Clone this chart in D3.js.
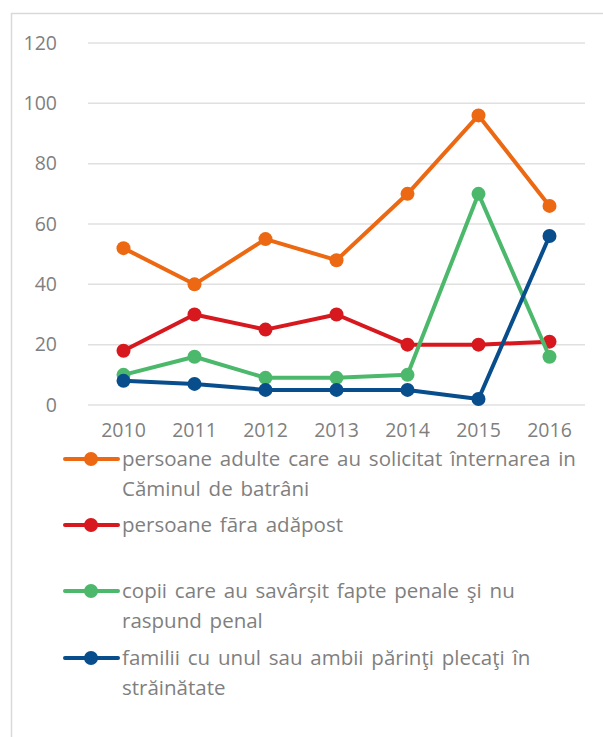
<!DOCTYPE html>
<html><head><meta charset="utf-8">
<script src="https://cdn.jsdelivr.net/npm/d3@7"></script>
<style>body{margin:0;background:#fff}svg{display:block}</style>
</head><body>
<svg id="c" width="603" height="737"></svg>
<script>
const years = ["2010","2011","2012","2013","2014","2015","2016"];
const adulti = [52,40,55,48,70,96,66];
const faraAdapost = [18,30,25,30,20,20,21];
const copii = [10,16,9,9,10,70,16];
const familii = [8,7,5,5,5,2,56];
const yTicks = [0,20,40,60,80,100,120];
const seriesNames = [
  ["persoane adulte care au solicitat înternarea in","Căminul de batrâni"],
  ["persoane fāra adăpost"],
  ["copii care au savârșit fapte penale şi nu","raspund penal"],
  ["familii cu unul sau ambii părinţi plecaţi în","străinătate"]
];
const colors = ["#EC6812","#D7181F","#4CB86C","#084D8C"];
const series = [adulti, faraAdapost, copii, familii];

const svg = d3.select("#c");
const font = "'Open Sans', Lato, sans-serif";
const grey = "#7f7f7f";

svg.append("rect").attr("x",11.5).attr("y",13.5).attr("width",620).attr("height",740)
  .attr("fill","#fff").attr("stroke","#d9d9d9").attr("stroke-width",1.5);

const x = d3.scaleBand().domain(years).range([88,585]);
const y = d3.scaleLinear().domain([0,120]).range([405,43]);

// gridlines
svg.append("g").selectAll("line").data(yTicks).join("line")
  .attr("x1",88).attr("x2",585).attr("y1",d=>y(d)).attr("y2",d=>y(d))
  .attr("stroke","#e0e0e0").attr("stroke-width",1.5);

// y axis labels
const yAxis = svg.append("g").attr("transform","translate(60,0)")
  .call(d3.axisLeft(y).tickValues(yTicks).tickSize(0).tickPadding(3));
yAxis.select(".domain").remove();
yAxis.selectAll("text").attr("font-family",font).attr("font-size",19.5).attr("fill",grey);

// x axis labels (baseline ~437)
const xAxis = svg.append("g").attr("transform","translate(0,437)")
  .call(d3.axisBottom(x).tickSize(0).tickPadding(0));
xAxis.select(".domain").remove();
xAxis.selectAll("text").attr("font-family",font).attr("font-size",19.5).attr("fill",grey)
  .attr("y",0).attr("dy","0");

const cx = d => x(d) + x.bandwidth()/2;
const line = d3.line().x((d,i)=>cx(years[i])).y(d=>y(d));

series.forEach((s,k)=>{
  const g = svg.append("g");
  g.append("path").datum(s).attr("d",line).attr("fill","none")
    .attr("stroke",colors[k]).attr("stroke-width",4).attr("stroke-linejoin","round");
  g.selectAll("circle").data(s).join("circle")
    .attr("cx",(d,i)=>cx(years[i])).attr("cy",d=>y(d)).attr("r",7).attr("fill",colors[k]);
});

// legend
const legY = [459, 525, 591, 658];
seriesNames.forEach((lines,k)=>{
  const g = svg.append("g").attr("transform",`translate(0,${legY[k]})`);
  g.append("line").attr("x1",65).attr("x2",118).attr("y1",0).attr("y2",0)
    .attr("stroke",colors[k]).attr("stroke-width",4).attr("stroke-linecap","round");
  g.append("circle").attr("cx",91).attr("cy",0).attr("r",7).attr("fill",colors[k]);
  const t = g.append("text").attr("font-family",font).attr("font-size",20.5)
    .attr("word-spacing","2.5px").attr("fill",grey);
  lines.forEach((ln,i)=>{
    t.append("tspan").attr("x",122).attr("y",7 + i*30).text(ln);
  });
});
</script>
</body></html>
